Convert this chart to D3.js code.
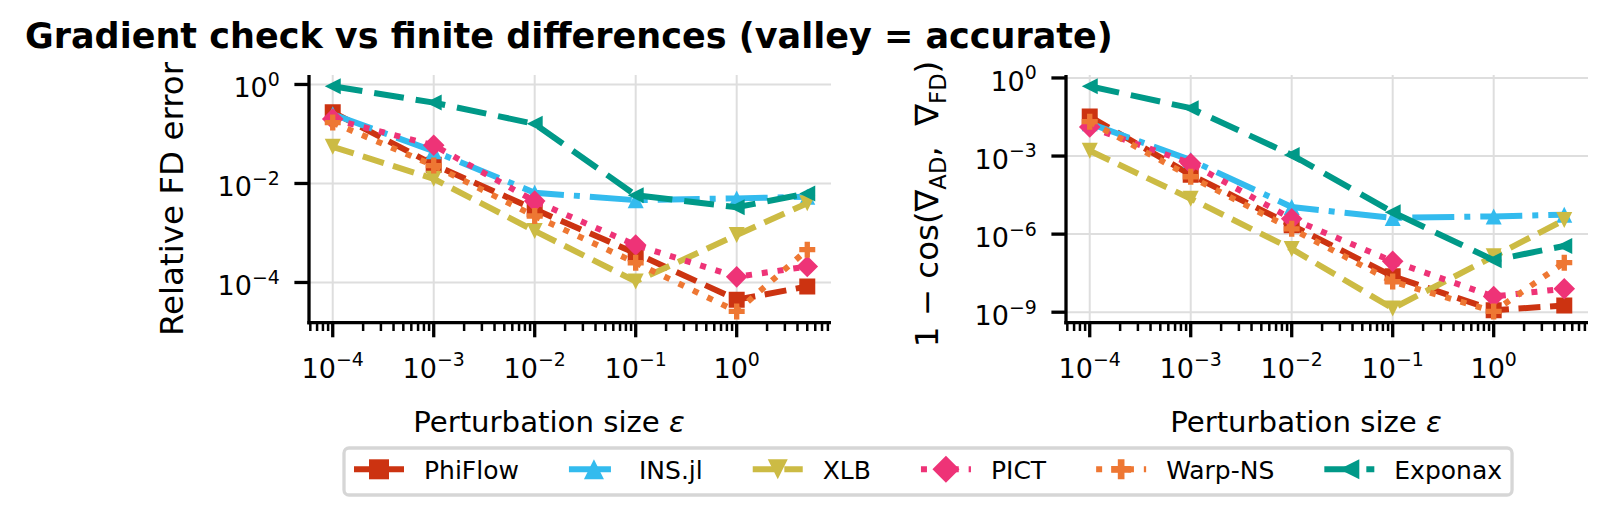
<!DOCTYPE html>
<html><head><meta charset="utf-8">
<script src="https://cdn.jsdelivr.net/npm/d3@7"></script>
<style>body{margin:0;background:#fff} text{font-family:"DejaVu Sans",sans-serif;fill:#000}</style>
</head><body><svg id="c" width="1611" height="518" xmlns="http://www.w3.org/2000/svg"></svg>
<script>
// ---------------- data ----------------
const epsilons = [1e-4, 1e-3, 1e-2, 1e-1, 1, 5];
const seriesNames = ["PhiFlow", "INS.jl", "XLB", "PICT", "Warp-NS", "Exponax"];
const xTickValues = [1e-4, 1e-3, 1e-2, 1e-1, 1];
const leftYTickValues = [1, 1e-2, 1e-4];
const rightYTickValues = [1, 1e-3, 1e-6, 1e-9];

// Relative FD error (left panel)
const relPhiFlow = [0.276, 0.024, 3.0e-3, 3.9e-4, 4.5e-5, 8.3e-5];
const relINSjl   = [0.25, 0.045, 6.5e-3, 4.6e-3, 5.0e-3, 5.4e-3];
const relXLB     = [0.055, 0.0124, 1.1e-3, 1.05e-4, 9.1e-4, 4.0e-3];
const relPICT    = [0.20, 0.059, 4.4e-3, 5.7e-4, 1.3e-4, 2.1e-4];
const relWarpNS  = [0.17, 0.023, 2.2e-3, 2.5e-4, 2.6e-5, 4.6e-4];
const relExponax = [0.92, 0.43, 0.16, 5.8e-3, 3.3e-3, 6.3e-3];

// 1 - cos(grad_AD, grad_FD) (right panel)
const cosPhiFlow = [0.033, 1.9e-4, 2.2e-6, 2.4e-8, 1.2e-9, 1.8e-9];
const cosINSjl   = [0.018, 7e-4, 1.1e-5, 4.2e-6, 4.8e-6, 5.6e-6];
const cosXLB     = [1.6e-3, 2.3e-5, 2.7e-7, 1.4e-9, 1.4e-7, 3.5e-6];
const cosPICT    = [0.013, 5.2e-4, 3.9e-6, 9e-8, 4e-9, 8e-9];
const cosWarpNS  = [0.021, 1.6e-4, 1.6e-6, 1.5e-8, 1.07e-9, 8e-8];
const cosExponax = [0.48, 0.069, 1.1e-3, 7e-6, 1.0e-7, 3.5e-7];

// ---------------- styles ----------------
const seriesColors = ["#CC3311", "#33BBEE", "#CCBB44", "#EE3377", "#EE7733", "#009988"];
const seriesMarkers = ["s", "^", "v", "D", "P", "<"];
const seriesDashes = ["22,9.6", "42,10,6,10", "22,9.6", "6,9.9", "6,9.9", "30,12"];
const LW = 6;

const svg = d3.select("#c");

function markerPath(type, r) {
  switch (type) {
    case "s": return `M${-r},${-r}H${r}V${r}H${-r}Z`;
    case "^": return `M0,${-r}L${r},${r}L${-r},${r}Z`;
    case "v": return `M0,${r}L${r},${-r}L${-r},${-r}Z`;
    case "<": return `M${-r},0L${r},${-r}L${r},${r}Z`;
    case "D": { const d = r * 1.35; return `M0,${-d}L${d},0L0,${d}L${-d},0Z`; }
    case "P": { const a = r / 3; return `M${-a},${-r}H${a}V${-a}H${r}V${a}H${a}V${r}H${-a}V${a}H${-r}V${-a}H${-a}Z`; }
  }
}

function sci(sel, v, size) {
  const e = Math.round(Math.log10(v));
  sel.append("tspan").text("10");
  sel.append("tspan").attr("font-size", size * 0.7).attr("dy", -size * 0.43)
    .text(e < 0 ? "\u2212" + (-e) : String(e));
}

function panel(opt) {
  const { x0, x1, yTop, yBot, data, yTicks, id } = opt;
  const lo = Math.log10(epsilons[0]), hi = Math.log10(epsilons[epsilons.length - 1]);
  const mx = 0.05 * (hi - lo);
  const x = d3.scaleLog().domain([10 ** (lo - mx), 10 ** (hi + mx)]).range([x0, x1]);
  const all = data.flat();
  const ylo = Math.log10(d3.min(all)), yhi = Math.log10(d3.max(all));
  const my = 0.05 * (yhi - ylo);
  const y = d3.scaleLog().domain([10 ** (ylo - my), 10 ** (yhi + my)]).range([yBot, yTop]);

  const g = svg.append("g");
  g.selectAll(null).data(xTickValues).enter().append("line")
    .attr("x1", d => x(d)).attr("x2", d => x(d)).attr("y1", yTop).attr("y2", yBot)
    .attr("stroke", "#dedede").attr("stroke-width", 2);
  g.selectAll(null).data(yTicks).enter().append("line")
    .attr("y1", d => y(d)).attr("y2", d => y(d)).attr("x1", x0).attr("x2", x1)
    .attr("stroke", "#dedede").attr("stroke-width", 2);

  svg.append("clipPath").attr("id", id).append("rect")
    .attr("x", x0).attr("y", yTop).attr("width", x1 - x0).attr("height", yBot - yTop);
  const pg = g.append("g").attr("clip-path", `url(#${id})`);
  const line = d3.line().x((d, i) => x(epsilons[i])).y(d => y(d));
  data.forEach((vals, s) => {
    pg.append("path").attr("d", line(vals)).attr("fill", "none")
      .attr("stroke", seriesColors[s]).attr("stroke-width", LW)
      .attr("stroke-dasharray", seriesDashes[s]);
    pg.selectAll(null).data(vals).enter().append("path")
      .attr("transform", (d, i) => `translate(${x(epsilons[i])},${y(d)})`)
      .attr("d", markerPath(seriesMarkers[s], 8)).attr("fill", seriesColors[s]);
  });

  g.append("line").attr("x1", x0).attr("x2", x0).attr("y1", yTop).attr("y2", yBot + 1.65)
    .attr("stroke", "#000").attr("stroke-width", 3.3);
  g.append("line").attr("x1", x0 - 1.65).attr("x2", x1).attr("y1", yBot).attr("y2", yBot)
    .attr("stroke", "#000").attr("stroke-width", 3.3);

  const [dlo, dhi] = x.domain();
  const minors = [];
  for (let d = -6; d <= 1; d++) for (let k = 2; k <= 9; k++) {
    const v = k * 10 ** d; if (v >= dlo && v <= dhi) minors.push(v);
  }
  g.selectAll(null).data(minors).enter().append("line")
    .attr("x1", d => x(d)).attr("x2", d => x(d)).attr("y1", yBot).attr("y2", yBot + 8.3)
    .attr("stroke", "#000").attr("stroke-width", 2.5);
  g.selectAll(null).data(xTickValues).enter().append("line")
    .attr("x1", d => x(d)).attr("x2", d => x(d)).attr("y1", yBot).attr("y2", yBot + 14.6)
    .attr("stroke", "#000").attr("stroke-width", 3.3);
  g.selectAll(null).data(xTickValues).enter().append("text")
    .attr("x", d => x(d)).attr("y", yBot + 55).attr("text-anchor", "middle")
    .attr("font-size", 27).each(function (d) { sci(d3.select(this), d, 27); });

  g.selectAll(null).data(yTicks).enter().append("line")
    .attr("x1", x0 - 14.6).attr("x2", x0).attr("y1", d => y(d)).attr("y2", d => y(d))
    .attr("stroke", "#000").attr("stroke-width", 3.3);
  g.selectAll(null).data(yTicks).enter().append("text")
    .attr("x", x0 - 29.2).attr("y", d => y(d) + 13).attr("text-anchor", "end")
    .attr("font-size", 27).each(function (d) { sci(d3.select(this), d, 27); });

  const xl = g.append("text").attr("x", (x0 + x1) / 2 - 21).attr("y", 431.7)
    .attr("text-anchor", "middle").attr("font-size", 29.2);
  xl.append("tspan").text("Perturbation size ");
  xl.append("tspan").attr("font-style", "italic").text("\u03B5");
  return g;
}

const leftData = [relPhiFlow, relINSjl, relXLB, relPICT, relWarpNS, relExponax];
const rightData = [cosPhiFlow, cosINSjl, cosXLB, cosPICT, cosWarpNS, cosExponax];

panel({ x0: 309, x1: 831, yTop: 75, yBot: 322.7, data: leftData, yTicks: leftYTickValues, id: "clipL" });
panel({ x0: 1066, x1: 1588, yTop: 75, yBot: 322.7, data: rightData, yTicks: rightYTickValues, id: "clipR" });

// y labels
svg.append("text").attr("transform", "translate(183,199) rotate(-90)")
  .attr("text-anchor", "middle").attr("font-size", 32.5).text("Relative FD error");
const yr = svg.append("text").attr("transform", "translate(938,204) rotate(-90)")
  .attr("text-anchor", "middle").attr("font-size", 32.5).style("white-space", "pre");
yr.append("tspan").text("1 \u2212 cos(\u2207");
yr.append("tspan").attr("font-size", 22.7).attr("dy", 7.5).text("AD");
yr.append("tspan").attr("dy", -7.5).text(",  \u2207");
yr.append("tspan").attr("font-size", 22.7).attr("dy", 7.5).text("FD");
yr.append("tspan").attr("dy", -7.5).text(")");

// title
svg.append("text").attr("x", 25).attr("y", 48).attr("font-size", 35)
  .attr("font-weight", "bold").text("Gradient check vs finite differences (valley = accurate)");

// legend
const legFS = 25, legX = 344, legY = 448, legH = 47;
const lg = svg.append("g");
const frame = lg.append("rect").attr("x", legX).attr("y", legY).attr("height", legH)
  .attr("rx", 5).attr("ry", 5).attr("fill", "#fff").attr("stroke", "#cccccc")
  .attr("stroke-opacity", 0.8).attr("stroke-width", 3.3);
let cx = legX + 10;
const lineY = 469.3;
seriesNames.forEach((name, s) => {
  lg.append("line").attr("x1", cx).attr("x2", cx + 50).attr("y1", lineY).attr("y2", lineY)
    .attr("stroke", seriesColors[s]).attr("stroke-width", LW)
    .attr("stroke-dasharray", seriesDashes[s]);
  lg.append("path").attr("transform", `translate(${cx + 25},${lineY})`)
    .attr("d", markerPath(seriesMarkers[s], 10)).attr("fill", seriesColors[s]);
  const t = lg.append("text").attr("x", cx + 70).attr("y", 479).attr("font-size", legFS).text(name);
  const w = t.node().getComputedTextLength();
  cx = cx + 70 + w + (s < seriesNames.length - 1 ? 50 : 0);
});
frame.attr("width", cx + 10 - legX);
</script>
</body></html>
